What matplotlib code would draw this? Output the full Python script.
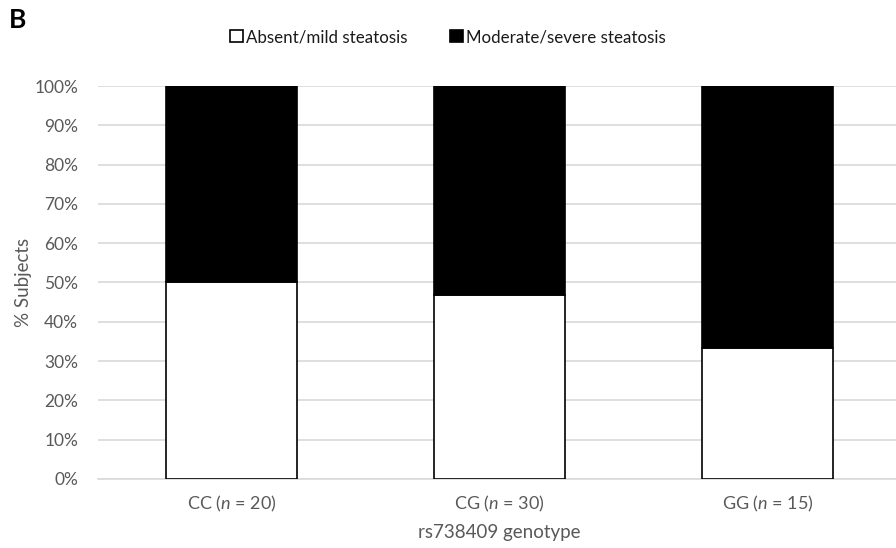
import matplotlib
matplotlib.use("Agg")
import matplotlib.pyplot as plt
import numpy as np

plt.rcParams['font.family'] = ['Lato', 'DejaVu Sans']
plt.rcParams['mathtext.fontset'] = 'custom'
plt.rcParams['mathtext.it'] = 'Lato:italic'
plt.rcParams['mathtext.rm'] = 'Lato'

categories = ["CC ($\\it{n}$ = 20)", "CG ($\\it{n}$ = 30)", "GG ($\\it{n}$ = 15)"]
absent_mild = [50.0, 46.7, 33.3]
moderate_severe = [50.0, 53.3, 66.7]
yticks = [0, 10, 20, 30, 40, 50, 60, 70, 80, 90, 100]
series_names = ["Absent/mild steatosis", "Moderate/severe steatosis"]

text_color = "#595959"
fig = plt.figure(figsize=(8.96, 5.48), dpi=100)
ax = fig.add_axes([0.109, 0.126, 0.897, 0.717])

x = np.arange(len(categories))
w = 0.49
ax.bar(x, absent_mild, w, color="white", edgecolor="black", linewidth=1.2,
       label=series_names[0], zorder=3)
ax.bar(x, moderate_severe, w, bottom=absent_mild, color="black", edgecolor="black",
       linewidth=1.2, label=series_names[1], zorder=3)

ax.set_xlim(-0.5, 2.5)
ax.set_ylim(0, 100)
ax.set_yticks(yticks)
ax.set_yticklabels([f"{v}%" for v in yticks])
ax.set_xticks(x)
ax.set_xticklabels(categories)
ax.yaxis.grid(True, color="#d9d9d9", linewidth=1.2, zorder=0)
ax.set_axisbelow(True)
for s in ["top", "right", "left"]:
    ax.spines[s].set_visible(False)
ax.spines["bottom"].set_color("#d9d9d9")
ax.spines["bottom"].set_linewidth(1.2)
ax.tick_params(axis="y", length=0, colors=text_color, labelsize=12.5, pad=14)
ax.tick_params(axis="x", length=0, colors=text_color, labelsize=13, pad=11)
ax.set_ylabel("% Subjects", color=text_color, fontsize=13.5, labelpad=2)
ax.set_xlabel("rs738409 genotype", color=text_color, fontsize=13.5, labelpad=7)

leg = fig.legend(loc="center", bbox_to_anchor=(0.5, 1 - 37 / 548), ncol=2, frameon=False,
                 fontsize=12.2, handlelength=0.75, handleheight=0.75, handletextpad=0.2,
                 columnspacing=2.5, labelcolor="#1a1a1a")

fig.text(9 / 896, 1 - 20 / 548, "B", fontsize=19, fontweight="bold", va="center", ha="left")

fig.savefig("out.png", dpi=100)
